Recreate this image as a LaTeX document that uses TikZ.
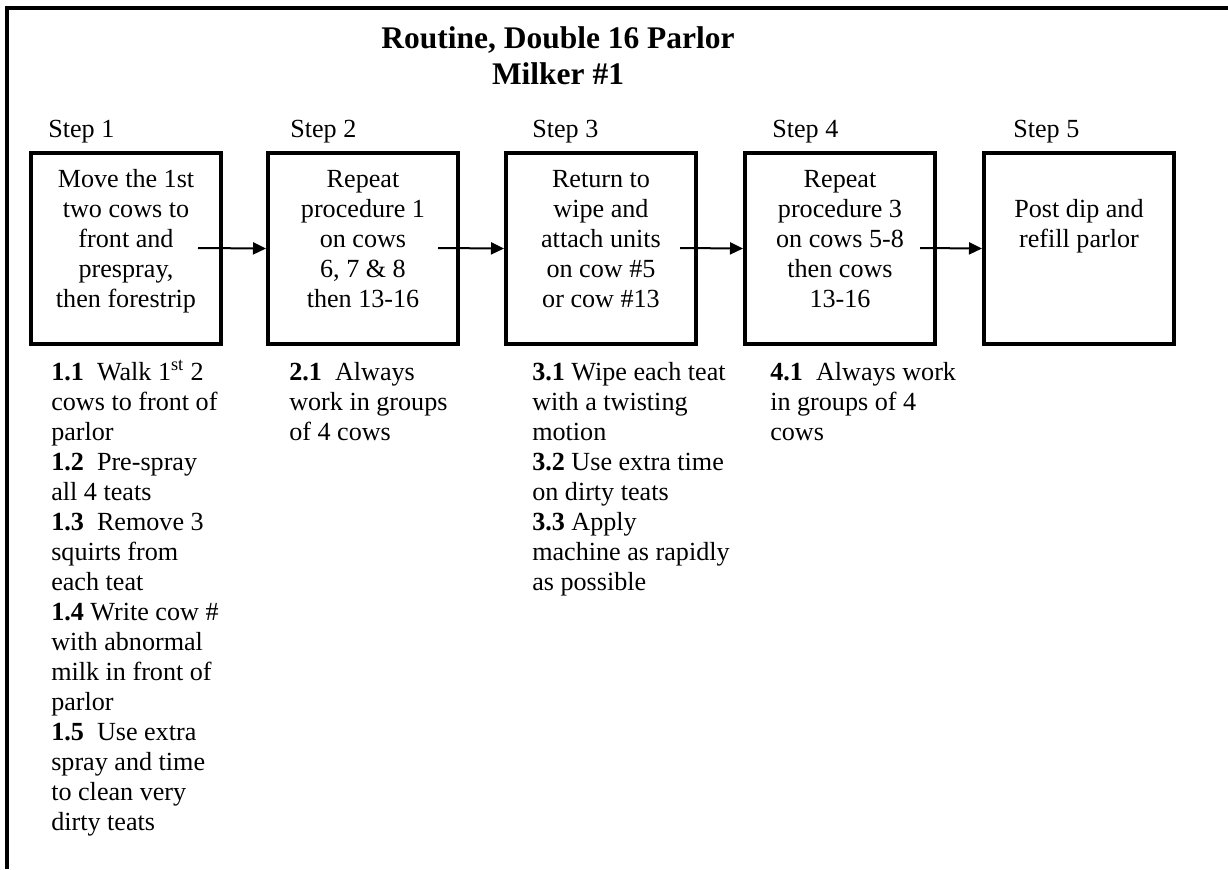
\documentclass[tikz,border=0pt]{standalone}
\usepackage{fontspec}
\setmainfont{Liberation Serif}
\usetikzlibrary{arrows.meta,calc}
\begin{document}
\begin{tikzpicture}[x=0.75pt,y=-0.75pt,
  stepbox/.style={draw,line width=3pt,inner sep=0pt,minimum width=142.5pt,minimum height=143.25pt},
  body/.style={inner sep=0pt,font=\fontsize{19.6pt}{22.5pt}\selectfont},
  boxtext/.style={body,anchor=base,align=center},
  col/.style={body,anchor=base west,align=left},
  titletext/.style={inner sep=0pt,anchor=base,align=center,font=\fontsize{23.6pt}{27pt}\selectfont\bfseries},
  flow/.style={line width=1.5pt,-{Triangle[length=9.75pt,width=9pt]}}]
\useasboundingbox (0,0) rectangle (1228,869);
% frame
\draw[line width=3pt] (7,869) -- (7,8) -- (1228,8);
% title (anchor = baseline of last line)
\node[titletext] (title) at (558,84) {Routine, Double 16 Parlor\\Milker \#1};
% step labels
\node[col] (s1) at (48,137) {Step 1};
\node[col] (s2) at (290,137) {Step 2};
\node[col] (s3) at (532,137) {Step 3};
\node[col] (s4) at (772,137) {Step 4};
\node[col] (s5) at (1013,137) {Step 5};
% boxes
\node[stepbox] (b1) at (126,248.5) {};
\node[stepbox] (b2) at (363,248.5) {};
\node[stepbox] (b3) at (601,248.5) {};
\node[stepbox] (b4) at (840,248.5) {};
\node[stepbox] (b5) at (1079,248.5) {};
% box texts (anchor = baseline of last line)
\node[boxtext] (t1) at ($(b1.north)+(0,156)$) {Move the 1st\\two cows to\\front and\\prespray,\\then forestrip};
\node[boxtext] (t2) at ($(b2.north)+(0,156)$) {Repeat\\procedure 1\\on cows\\6, 7 \& 8\\then 13-16};
\node[boxtext] (t3) at ($(b3.north)+(0,156)$) {Return to\\wipe and\\attach units\\on cow \#5\\or cow \#13};
\node[boxtext] (t4) at ($(b4.north)+(0,156)$) {Repeat\\procedure 3\\on cows 5-8\\then cows\\13-16};
\node[boxtext] (t5) at ($(b5.north)+(0,96)$) {Post dip and\\refill parlor};
% arrows
\coordinate (a1) at (198,248);
\coordinate (a2) at (438,248);
\coordinate (a3) at (680,248);
\coordinate (a4) at (920,248);
\draw[flow] (a1) -- (b2.west);
\draw[flow] (a2) -- (b3.west);
\draw[flow] (a3) -- (b4.west);
\draw[flow] (a4) -- (b5.west);
% detail columns (anchor = baseline of last line)
\node[col] (c1) at (51,830.5) {\textbf{1.1}\ \ Walk 1\textsuperscript{st} 2\\cows to front of\\parlor\\\textbf{1.2}\ \ Pre-spray\\all 4 teats\\\textbf{1.3}\ \ Remove 3\\squirts from\\each teat\\\textbf{1.4} Write cow \#\\with abnormal\\milk in front of\\parlor\\\textbf{1.5}\ \ Use extra\\spray and time\\to clean very\\dirty teats};
\node[col] (c2) at (289,440.5) {\textbf{2.1}\ \ Always\\work in groups\\of 4 cows};
\node[col] (c3) at (532,590.5) {\textbf{3.1} Wipe each teat\\with a twisting\\motion\\\textbf{3.2} Use extra time\\on dirty teats\\\textbf{3.3} Apply\\machine as rapidly\\as possible};
\node[col] (c4) at (770,440.5) {\textbf{4.1}\ \ Always work\\in groups of 4\\cows};
\end{tikzpicture}
\end{document}
